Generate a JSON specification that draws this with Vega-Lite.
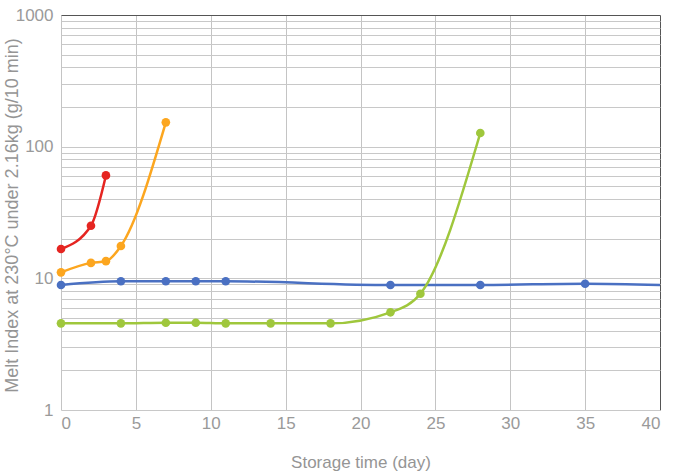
{
  "$schema": "https://vega.github.io/schema/vega-lite/v6.json",
  "width": 599,
  "height": 395,
  "autosize": "none",
  "padding": {"left": 61, "top": 15, "right": 16, "bottom": 63},
  "background": "white",
  "config": {
    "view": {"stroke": null},
    "font": "Liberation Sans",
    "axis": {
      "labelFont": "Liberation Sans",
      "titleFont": "Liberation Sans",
      "labelColor": "#9a9a9a",
      "titleColor": "#959595",
      "labelFontSize": 17,
      "titleFontSize": 17,
      "titleFontWeight": "normal",
      "domain": false,
      "ticks": false,
      "gridWidth": 1
    }
  },
  "data": {
    "values": [
      {"series": "A", "day": 0, "mi": 16.7},
      {"series": "A", "day": 2, "mi": 25.1},
      {"series": "A", "day": 3, "mi": 60.5},
      {"series": "B", "day": 0, "mi": 11.1},
      {"series": "B", "day": 2, "mi": 13.1},
      {"series": "B", "day": 3, "mi": 13.5},
      {"series": "B", "day": 4, "mi": 17.6},
      {"series": "B", "day": 7, "mi": 153},
      {"series": "C", "day": 0, "mi": 8.9},
      {"series": "C", "day": 4, "mi": 9.5},
      {"series": "C", "day": 7, "mi": 9.5},
      {"series": "C", "day": 9, "mi": 9.5},
      {"series": "C", "day": 11, "mi": 9.5},
      {"series": "C", "day": 22, "mi": 8.9},
      {"series": "C", "day": 28, "mi": 8.9},
      {"series": "C", "day": 35, "mi": 9.1},
      {"series": "C", "day": 40, "mi": 8.9},
      {"series": "D", "day": 0, "mi": 4.55},
      {"series": "D", "day": 4, "mi": 4.55},
      {"series": "D", "day": 7, "mi": 4.6},
      {"series": "D", "day": 9, "mi": 4.6},
      {"series": "D", "day": 11, "mi": 4.55},
      {"series": "D", "day": 14, "mi": 4.55},
      {"series": "D", "day": 18, "mi": 4.55},
      {"series": "D", "day": 22, "mi": 5.52},
      {"series": "D", "day": 24, "mi": 7.64},
      {"series": "D", "day": 28, "mi": 127}
    ]
  },
  "encoding": {
    "x": {
      "field": "day",
      "type": "quantitative",
      "scale": {"domain": [0, 40], "nice": false},
      "axis": {
        "title": "Storage time (day)",
        "values": [0, 5, 10, 15, 20, 25, 30, 35, 40],
        "labelPadding": 5,
        "titleY": 52,
        "titleBaseline": "middle",
        "gridColor": {"expr": "datum.value == 40 ? '#555555' : '#c4c4c4'"}
      }
    },
    "y": {
      "field": "mi",
      "type": "quantitative",
      "scale": {"type": "log", "domain": [1, 1000], "nice": false},
      "axis": {
        "title": "Melt Index at 230°C under 2.16kg (g/10 min)",
        "values": [1,2,3,4,5,6,7,8,9,10,20,30,40,50,60,70,80,90,100,200,300,400,500,600,700,800,900,1000],
        "labelExpr": "indexof([1,10,100,1000], datum.value) >= 0 ? format(datum.value, 'd') : ''",
        "labelPadding": 8,
        "titleFontSize": 18,
        "titleX": -49,
        "titleY": 200,
        "titleAngle": -90,
        "titleAlign": "center",
        "titleBaseline": "middle",
        "gridColor": {"expr": "datum.value == 1000 ? '#555555' : '#c8c8c8'"}
      }
    },
    "color": {
      "field": "series",
      "type": "nominal",
      "scale": {"domain": ["A", "B", "C", "D"], "range": ["#e52521", "#fca61f", "#4a70c2", "#9fc73c"]},
      "legend": null
    }
  },
  "layer": [
    {"mark": {"type": "line", "strokeWidth": 2.5, "interpolate": "monotone"}},
    {
      "transform": [{"filter": "datum.day < 40"}],
      "mark": {"type": "point", "filled": true, "opacity": 1, "size": 75}
    }
  ]
}
